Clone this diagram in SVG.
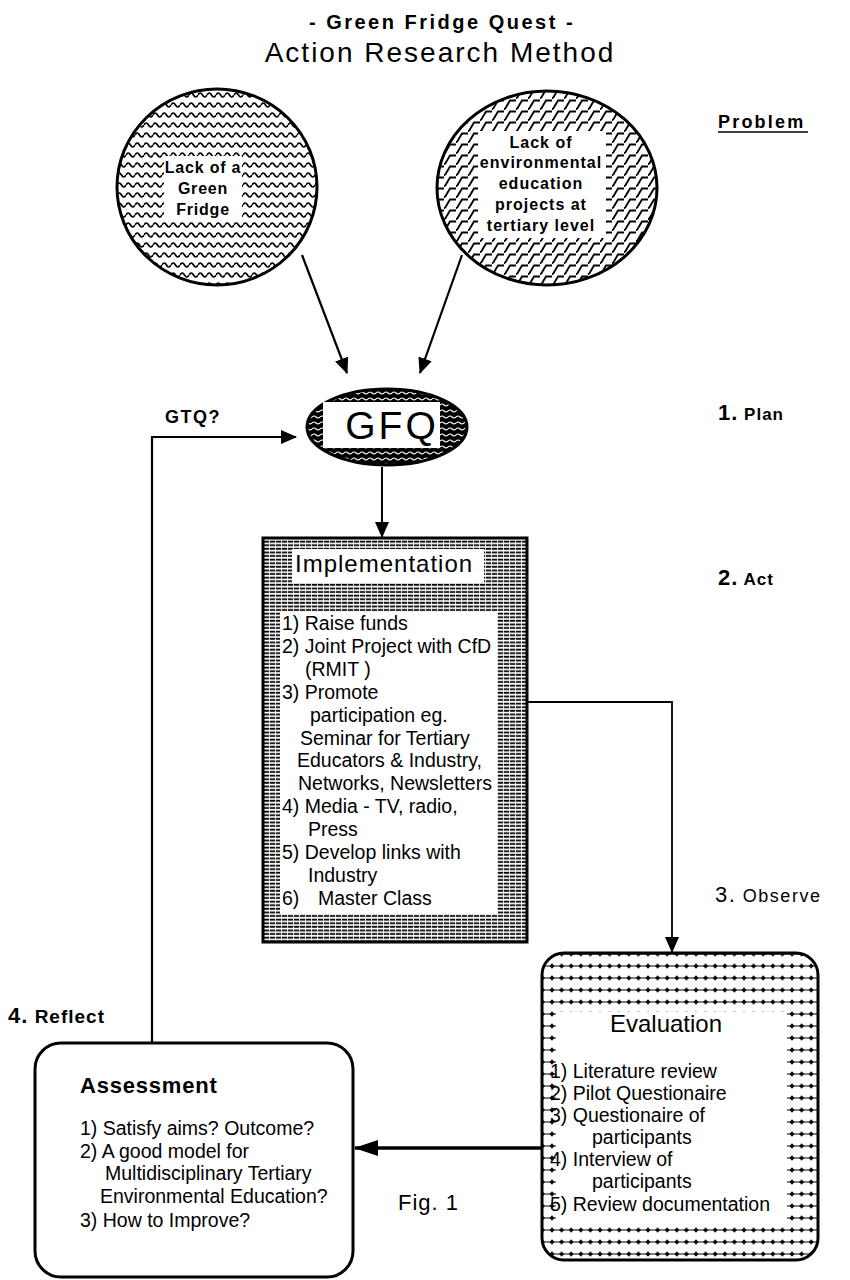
<svg xmlns="http://www.w3.org/2000/svg" width="850" height="1280" viewBox="0 0 850 1280">
<style>
text{font-family:"Liberation Sans",Arial,sans-serif;fill:#000}
.t{font-size:19.5px}
.b{font-weight:bold}
.ct{text-anchor:middle}
.edge{stroke:#000;fill:none}
.outline{stroke:#000;stroke-width:3}
</style>
<defs>
<pattern id="wave" patternUnits="userSpaceOnUse" width="9" height="10">
<rect width="9" height="10" fill="#fff"/>
<path d="M0 5 Q2.25 1 4.5 5 T9 5" stroke="#000" stroke-width="1.7" fill="none"/>
</pattern>
<pattern id="waveDark" patternUnits="userSpaceOnUse" width="8" height="6">
<rect width="8" height="6" fill="#000"/>
<path d="M0 3 Q2 1 4 3 T8 3" stroke="#fff" stroke-width="1.1" fill="none"/>
</pattern>
<pattern id="brick" patternUnits="userSpaceOnUse" width="12" height="11">
<rect width="12" height="11" fill="#fff"/>
<path d="M1 10 L6 1.5 H12 M-4 10 H1" stroke="#000" stroke-width="1.8" fill="none"/>
</pattern>
<pattern id="hatch" patternUnits="userSpaceOnUse" width="6" height="3.6">
<rect width="6" height="3.6" fill="#fff"/>
<line x1="0" y1="1.6" x2="5.2" y2="1.6" stroke="#000" stroke-width="1.8"/>
</pattern>
<pattern id="beads" patternUnits="userSpaceOnUse" width="9.6" height="12">
<rect width="9.6" height="12" fill="#fff"/>
<line x1="0" y1="6" x2="9.6" y2="6" stroke="#000" stroke-width="1"/>
<path d="M4.8 3.3 L7.2 6 L4.8 8.7 L2.4 6 Z" fill="#000"/>
</pattern>
<marker id="ah" markerUnits="userSpaceOnUse" markerWidth="16" markerHeight="14" refX="15" refY="7" orient="auto">
<path d="M0 0 L16 7 L0 14 Z" fill="#000"/>
</marker>
<marker id="ahBig" markerUnits="userSpaceOnUse" markerWidth="24" markerHeight="16" refX="23" refY="8" orient="auto">
<path d="M0 0 L24 8 L0 16 Z" fill="#000"/>
</marker>
</defs>

<g id="title">
<text x="442" y="29" class="ct b" font-size="20" letter-spacing="2.5">- Green Fridge Quest  -</text>
<text x="440" y="62" class="ct" font-size="28" letter-spacing="2">Action Research Method</text>
</g>

<g id="labels">
<text x="718" y="128" class="b" font-size="18" letter-spacing="2.2">Problem</text>
<line x1="718" y1="132" x2="808" y2="132" stroke="#000" stroke-width="1.5"/>
<text x="718" y="420" class="b" font-size="17" letter-spacing="1"><tspan font-size="22">1.</tspan> Plan</text>
<text x="718" y="585" class="b" font-size="17" letter-spacing="1"><tspan font-size="22">2.</tspan> Act</text>
<text x="715" y="902" font-size="18" letter-spacing="1.5"><tspan font-size="22">3.</tspan> Observe</text>
<text x="8" y="1023" class="b" font-size="19" letter-spacing="1"><tspan font-size="22">4.</tspan> Reflect</text>
<text x="165" y="423" class="b" font-size="18" letter-spacing="1.5">GTQ?</text>
<text x="398" y="1210" font-size="22" letter-spacing="1">Fig. 1</text>
</g>

<g id="problem1">
<ellipse cx="217" cy="187" rx="100" ry="98" fill="url(#wave)" class="outline"/>
<rect x="164" y="156" width="78" height="64" fill="#fff"/>
<text class="ct b" font-size="16" letter-spacing="0.8"><tspan x="203" y="173">Lack of a</tspan><tspan x="203" y="194">Green</tspan><tspan x="203" y="215">Fridge</tspan></text>
</g>

<g id="problem2">
<ellipse cx="547" cy="188" rx="110" ry="97" fill="url(#brick)" class="outline"/>
<rect x="478" y="131" width="128" height="107" fill="#fff"/>
<text class="ct b" font-size="16" letter-spacing="1"><tspan x="541" y="148">Lack of</tspan><tspan x="541" y="168">environmental</tspan><tspan x="541" y="189">education</tspan><tspan x="541" y="210">projects at</tspan><tspan x="541" y="231">tertiary  level</tspan></text>
</g>

<g id="gfq">
<ellipse cx="387" cy="427" rx="80" ry="38" fill="url(#waveDark)" class="outline"/>
<rect x="323" y="402" width="117" height="46" fill="#fff"/>
<text x="392" y="439" class="ct" font-size="39" letter-spacing="3">GFQ</text>
</g>

<g id="implementation">
<rect x="263" y="538" width="264" height="404" fill="url(#hatch)" class="outline"/>
<rect x="292" y="549" width="192" height="34" fill="#fff"/>
<rect x="280" y="612" width="217" height="302" fill="#fff"/>
<text x="295" y="572" font-size="24" letter-spacing="1">Implementation</text>
<text class="t">
<tspan x="282" y="630">1) Raise funds</tspan>
<tspan x="282" y="653">2) Joint Project with CfD</tspan>
<tspan x="305" y="676">(RMIT )</tspan>
<tspan x="282" y="699">3) Promote</tspan>
<tspan x="310" y="722">participation  eg.</tspan>
<tspan x="300" y="745">Seminar for Tertiary</tspan>
<tspan x="297" y="767">Educators &amp; Industry,</tspan>
<tspan x="298" y="790">Networks, Newsletters</tspan>
<tspan x="282" y="813">4) Media - TV, radio,</tspan>
<tspan x="308" y="836">Press</tspan>
<tspan x="282" y="859">5) Develop links with</tspan>
<tspan x="308" y="882">Industry</tspan>
<tspan x="282" y="905">6)</tspan><tspan x="318" y="905">Master Class</tspan>
</text>
</g>

<g id="evaluation">
<rect x="542" y="953" width="276" height="307" rx="22" ry="22" fill="url(#beads)" class="outline"/>
<rect x="556" y="1012" width="231" height="210" fill="#fff"/>
<text x="666" y="1032" class="ct" font-size="24">Evaluation</text>
<text class="t" font-size="20">
<tspan x="550" y="1078">1) Literature review</tspan>
<tspan x="550" y="1100">2) Pilot Questionaire</tspan>
<tspan x="550" y="1122">3) Questionaire of</tspan>
<tspan x="592" y="1144">participants</tspan>
<tspan x="550" y="1166">4) Interview of</tspan>
<tspan x="592" y="1188">participants</tspan>
<tspan x="550" y="1211">5) Review documentation</tspan>
</text>
</g>

<g id="assessment">
<rect x="35" y="1043" width="318" height="234" rx="26" ry="26" fill="#fff" class="outline"/>
<text x="80" y="1093" class="b" font-size="22" letter-spacing="0.8">Assessment</text>
<text class="t">
<tspan x="80" y="1135">1) Satisfy aims? Outcome?</tspan>
<tspan x="80" y="1158">2) A good model for</tspan>
<tspan x="105" y="1180">Multidisciplinary Tertiary</tspan>
<tspan x="100" y="1203">Environmental Education?</tspan>
<tspan x="80" y="1227">3) How to Improve?</tspan>
</text>
</g>

<g id="connectors">
<line x1="302" y1="255" x2="347" y2="373" class="edge" stroke-width="2.2" marker-end="url(#ah)"/>
<line x1="462" y1="255" x2="420" y2="373" class="edge" stroke-width="2.2" marker-end="url(#ah)"/>
<line x1="382" y1="467" x2="382" y2="537" class="edge" stroke-width="2" marker-end="url(#ah)"/>
<polyline points="152,1043 152,437 296,437" class="edge" stroke-width="2.2" marker-end="url(#ah)"/>
<polyline points="527,702 672,702 672,952" class="edge" stroke-width="1.8" marker-end="url(#ah)"/>
<line x1="542" y1="1148" x2="355" y2="1148" class="edge" stroke-width="3.5" marker-end="url(#ahBig)"/>
</g>
</svg>
